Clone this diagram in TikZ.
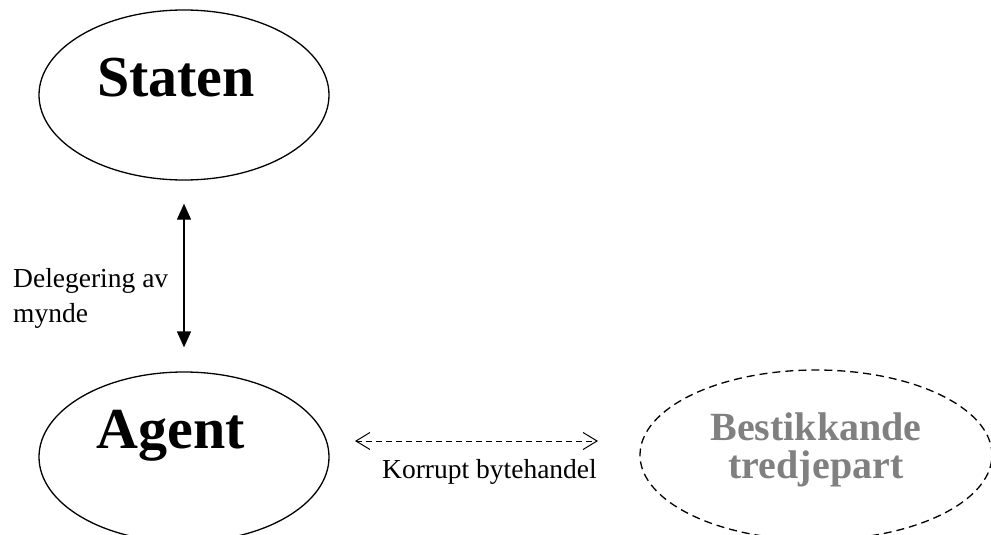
\documentclass[tikz,border=0pt]{standalone}
\usepackage{fontspec}
\setmainfont{Liberation Serif}
\usetikzlibrary{shapes.geometric, arrows.meta}

\tikzset{
    party/.style = {draw, ellipse, line width = 1.3pt, minimum width = 290pt, minimum height = 170pt, inner sep = 0pt},
    bigname/.style = {font = \fontsize{58}{60}\selectfont\bfseries},
    smalltxt/.style = {font = \fontsize{27.5}{35}\selectfont, inner sep = 0pt}
}

\begin{document}
\begin{tikzpicture}[x = 1pt, y = -1pt]
        \useasboundingbox (0, 0) rectangle (991, 535);
        \node [party] (staten) at (184, 95) {};
        \node [bigname] (statentxt) at (176, 78) {Staten};
        \node [party] (agent) at (184, 457) {};
        \node [bigname] (agenttxt) at (171, 436) {Agent};
        \node [party, dashed, dash pattern = on 8pt off 5pt, minimum width = 352pt, minimum height = 170pt] (tredje) at (816, 455) {};
        \node [font = \fontsize{40}{38}\selectfont\bfseries, text = gray, align = center, inner sep = 0pt] (tredjetxt) at (816, 450) {Bestikkande\\tredjepart};
        \draw [{Triangle[length = 16pt, width = 14pt]}-{Triangle[length = 16pt, width = 14pt]}, line width = 1.3pt, shorten < = 23pt, shorten > = 24pt] (staten) -- (agent);
        \node [smalltxt, anchor = west, align = left] (deleg) at (13, 298) {Delegering av\\mynde};
        \coordinate (kleft) at (355, 441);
        \coordinate (kright) at (598, 441);
        \draw [{Straight Barb[length = 14pt, width = 17pt]}-{Straight Barb[length = 14pt, width = 17pt]}, dashed, dash pattern = on 6pt off 4pt, line width = 1pt] (kleft) -- (kright);
        \node [smalltxt, anchor = base] (korrupt) at (489.5, 478) {Korrupt bytehandel};
    \end{tikzpicture}
\end{document}
